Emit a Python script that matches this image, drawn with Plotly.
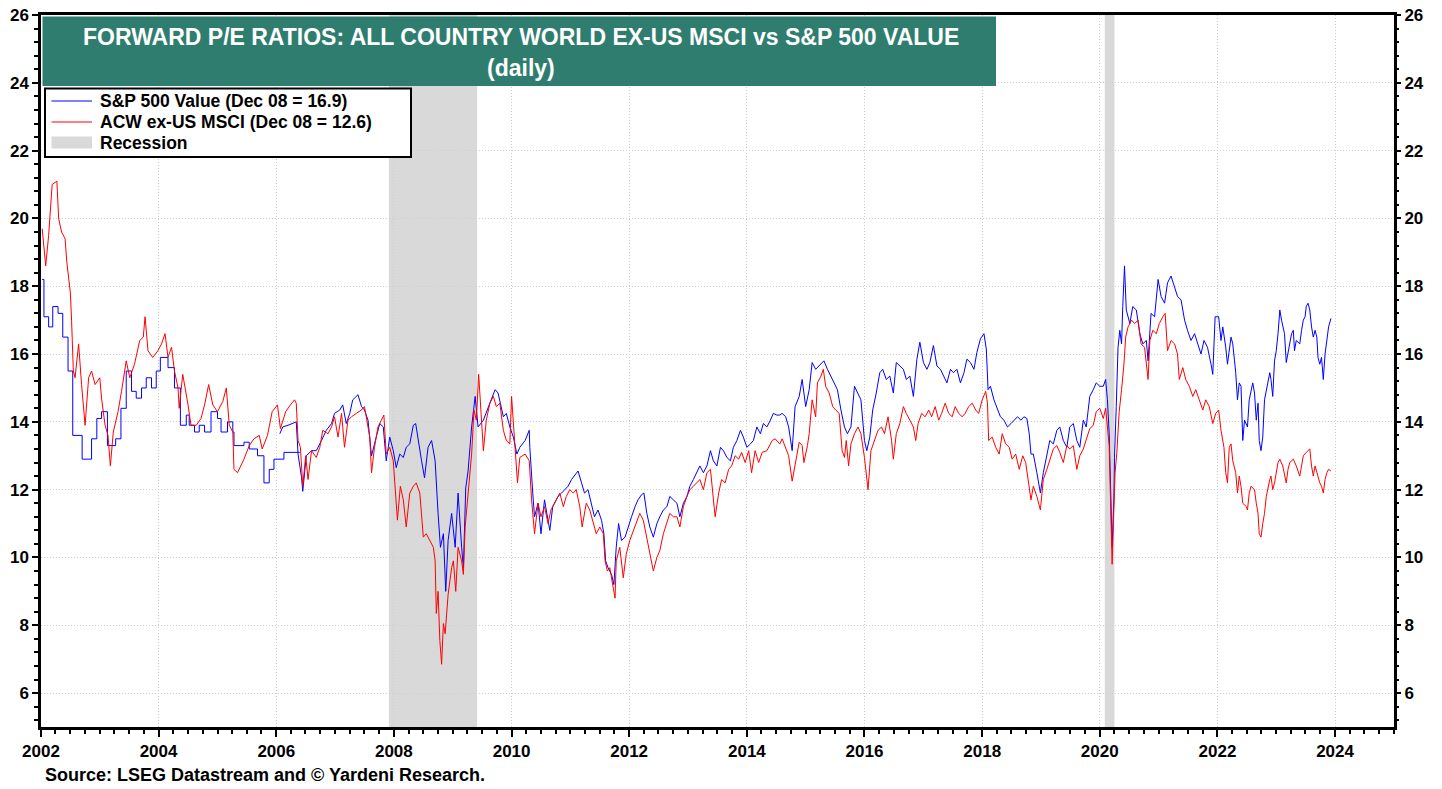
import pandas as pd
import plotly.graph_objects as go

# ---------------- data ----------------
# decimal years
ACW_YEARS = [
    2002.02, 2002.08, 2002.13, 2002.19, 2002.27, 2002.30, 2002.35, 2002.41, 2002.44, 2002.47, 2002.50, 2002.52,
    2002.55, 2002.58, 2002.64, 2002.69, 2002.75, 2002.81, 2002.86, 2002.92, 2003.00, 2003.03, 2003.09, 2003.14,
    2003.18, 2003.23, 2003.31, 2003.37, 2003.45, 2003.51, 2003.59, 2003.68, 2003.74, 2003.77, 2003.82, 2003.90,
    2003.99, 2004.05, 2004.11, 2004.16, 2004.22, 2004.27, 2004.33, 2004.35, 2004.41, 2004.50, 2004.55, 2004.64,
    2004.72, 2004.78, 2004.85, 2004.92, 2005.00, 2005.09, 2005.15, 2005.20, 2005.26, 2005.28, 2005.34, 2005.45,
    2005.54, 2005.62, 2005.71, 2005.76, 2005.85, 2005.93, 2006.02, 2006.07, 2006.16, 2006.24,
    2006.31, 2006.34, 2006.37, 2006.41, 2006.45, 2006.50, 2006.54, 2006.60, 2006.68, 2006.74, 2006.79, 2006.88,
    2006.94, 2006.99, 2007.05, 2007.11, 2007.16, 2007.22, 2007.28, 2007.36, 2007.45, 2007.50, 2007.54, 2007.59,
    2007.62, 2007.67, 2007.73, 2007.79, 2007.83, 2007.87, 2007.93, 2007.99, 2008.04, 2008.06, 2008.11, 2008.16,
    2008.21, 2008.27, 2008.33, 2008.38, 2008.44, 2008.50, 2008.55, 2008.61, 2008.67, 2008.70, 2008.72, 2008.75,
    2008.78, 2008.81, 2008.84, 2008.87, 2008.89, 2008.92, 2008.98, 2009.01, 2009.05, 2009.09, 2009.15, 2009.18,
    2009.21, 2009.26, 2009.32, 2009.36, 2009.40, 2009.44, 2009.49, 2009.52, 2009.57, 2009.63, 2009.69, 2009.74,
    2009.80, 2009.86, 2009.91, 2009.97, 2010.00, 2010.06, 2010.10, 2010.14, 2010.23, 2010.30,
    2010.34, 2010.39, 2010.45, 2010.50, 2010.56, 2010.62, 2010.67, 2010.73, 2010.82, 2010.88, 2010.93, 2010.99,
    2011.05, 2011.10, 2011.16, 2011.20, 2011.27, 2011.33, 2011.39, 2011.44, 2011.50, 2011.56, 2011.59, 2011.63,
    2011.67, 2011.72, 2011.76, 2011.78, 2011.84, 2011.90, 2011.95, 2012.01, 2012.07, 2012.13, 2012.18, 2012.24,
    2012.30, 2012.35, 2012.41, 2012.47, 2012.52, 2012.58, 2012.64, 2012.69, 2012.75, 2012.81, 2012.86, 2012.92,
    2012.98, 2013.03, 2013.09, 2013.15, 2013.20, 2013.26, 2013.32, 2013.38, 2013.42, 2013.46, 2013.52, 2013.57,
    2013.63, 2013.69, 2013.74, 2013.80, 2013.86, 2013.91, 2013.97, 2014.03, 2014.08, 2014.14, 2014.20, 2014.26,
    2014.34, 2014.43, 2014.48, 2014.56,
    2014.60, 2014.66, 2014.71, 2014.77, 2014.83, 2014.89, 2014.94, 2014.97, 2015.03, 2015.06, 2015.11, 2015.17,
    2015.20, 2015.26, 2015.30, 2015.34, 2015.40, 2015.46, 2015.51, 2015.57, 2015.62, 2015.66, 2015.69, 2015.73,
    2015.77, 2015.83, 2015.89, 2015.94, 2016.00, 2016.03, 2016.06, 2016.11, 2016.17, 2016.23, 2016.29, 2016.34,
    2016.40, 2016.46, 2016.49, 2016.54, 2016.60, 2016.66, 2016.71, 2016.77, 2016.83, 2016.87, 2016.91, 2016.97,
    2017.03, 2017.09, 2017.14, 2017.20, 2017.26, 2017.31, 2017.37, 2017.43, 2017.49, 2017.54, 2017.60, 2017.66,
    2017.71, 2017.77, 2017.83, 2017.89, 2017.94, 2018.00, 2018.06, 2018.09, 2018.11, 2018.17, 2018.23, 2018.29,
    2018.34, 2018.40, 2018.46, 2018.51, 2018.57, 2018.63, 2018.69, 2018.74, 2018.80, 2018.83,
    2018.87, 2018.93, 2018.99, 2019.04, 2019.10, 2019.15, 2019.21, 2019.27, 2019.32, 2019.38, 2019.44, 2019.49,
    2019.55, 2019.61, 2019.66, 2019.72, 2019.77, 2019.83, 2019.89, 2019.94, 2020.00, 2020.06, 2020.10, 2020.13,
    2020.16, 2020.18, 2020.20, 2020.21, 2020.24, 2020.26, 2020.29, 2020.33, 2020.37, 2020.41, 2020.44, 2020.48,
    2020.54, 2020.59, 2020.65, 2020.70, 2020.76, 2020.82, 2020.85, 2020.90, 2020.96, 2021.01, 2021.07, 2021.11,
    2021.15, 2021.21, 2021.27, 2021.32, 2021.35, 2021.41, 2021.46, 2021.52, 2021.58, 2021.63, 2021.69, 2021.75,
    2021.80, 2021.86, 2021.92, 2021.97, 2022.02,
    2022.06, 2022.11, 2022.14, 2022.17, 2022.20, 2022.23, 2022.26, 2022.31, 2022.34, 2022.37, 2022.40, 2022.43,
    2022.49, 2022.51, 2022.54, 2022.57, 2022.63, 2022.66, 2022.69, 2022.71, 2022.74, 2022.77, 2022.80, 2022.83,
    2022.86, 2022.89, 2022.91, 2022.94, 2022.97, 2023.00, 2023.03, 2023.06, 2023.11, 2023.17, 2023.20, 2023.23,
    2023.29, 2023.34, 2023.40, 2023.43, 2023.46, 2023.51, 2023.57, 2023.60, 2023.63, 2023.66, 2023.69, 2023.74,
    2023.77, 2023.80, 2023.83, 2023.86, 2023.89, 2023.93,
]
ACW_PE = [
    19.7, 18.6, 19.5, 21.0, 21.1, 20.0, 19.6, 19.4, 18.7, 18.2, 17.8, 17.0,
    15.5, 15.3, 16.3, 15.1, 13.9, 15.3, 15.5, 15.1, 15.3, 14.7, 13.9, 13.6,
    12.7, 13.7, 14.3, 14.9, 15.8, 15.3, 15.7, 16.4, 16.5, 17.1, 16.1, 15.9,
    16.1, 16.3, 16.6, 15.9, 16.2, 15.5, 15.0, 14.4, 15.4, 14.5, 13.9, 13.9,
    14.1, 14.5, 15.1, 14.5, 14.3, 14.6, 15.0, 13.9, 13.7, 12.6, 12.5, 12.9,
    13.3, 13.5, 13.6, 13.2, 13.6, 14.3, 14.5, 13.8, 14.3, 14.5,
    14.65, 14.55, 13.45, 13.25, 12.1, 13.0, 12.3, 13.15, 12.95, 13.25, 13.75, 13.65,
    13.85, 14.15, 13.55, 14.25, 13.25, 14.05, 14.15, 14.25, 14.35, 14.45, 14.05, 13.55,
    12.5, 13.25, 13.85, 14.05, 14.2, 13.05, 13.25, 12.85, 11.7, 11.1, 12.1, 11.7,
    10.9, 11.9, 12.1, 12.2, 11.9, 10.6, 10.7, 10.5, 10.3, 9.9, 8.35, 9.0,
    7.55, 6.85, 8.05, 7.75, 8.35, 8.9, 9.7, 9.9, 9.0, 10.3, 9.9, 9.5,
    10.9, 11.9, 13.05, 14.35, 14.05, 15.4, 13.75, 13.15, 14.05, 14.55, 14.75, 14.45,
    14.55, 13.75, 13.45, 13.35, 14.75, 13.05, 12.2, 12.95, 13.05, 12.85,
    11.7, 10.7, 11.6, 11.2, 11.5, 11.0, 11.4, 11.6, 11.9, 11.5, 11.8, 12.0,
    11.9, 12.0, 11.5, 10.9, 11.6, 11.4, 11.0, 10.7, 10.9, 10.7, 9.9, 9.6,
    9.7, 9.2, 8.8, 9.9, 10.3, 9.4, 10.1, 10.5, 10.8, 11.1, 11.3, 11.1,
    10.6, 10.2, 9.6, 10.0, 10.2, 10.7, 11.0, 11.3, 11.2, 11.2, 10.9, 11.5,
    11.8, 12.0, 12.1, 12.2, 12.3, 12.0, 12.5, 12.6, 11.9, 11.2, 11.9, 12.3,
    12.2, 12.6, 12.7, 13.0, 12.9, 13.1, 12.8, 13.15, 12.5, 13.15, 12.8, 13.1,
    13.15, 13.45, 13.5, 13.35,
    13.5, 13.2, 13.0, 12.25, 12.8, 13.4, 13.3, 12.8, 13.3, 13.65, 14.65, 14.15,
    15.15, 15.35, 15.55, 15.05, 14.85, 14.45, 14.35, 14.25, 13.15, 12.95, 13.45, 12.7,
    13.35, 13.65, 13.85, 13.65, 12.95, 12.4, 12.0, 13.15, 13.45, 13.75, 13.85, 13.65,
    14.15, 13.45, 12.9, 13.65, 13.95, 14.45, 14.25, 14.05, 13.85, 13.45, 13.95, 14.25,
    14.15, 14.35, 14.15, 14.45, 14.05, 14.25, 14.55, 14.25, 14.15, 14.45, 14.25, 14.15,
    14.25, 14.45, 14.55, 14.35, 14.25, 14.65, 14.9, 14.55, 13.45, 13.55, 13.25, 13.05,
    13.65, 13.35, 13.25, 12.9, 13.05, 12.6, 13.0, 12.8, 12.1, 11.7,
    12.1, 11.8, 11.4, 12.3, 12.6, 12.9, 13.2, 13.3, 13.1, 12.8, 13.3, 13.2,
    13.3, 12.6, 13.0, 13.2, 13.5, 13.8, 13.9, 14.3, 14.4, 14.1, 14.4, 13.9,
    13.3, 11.9, 10.5, 9.8, 11.5, 12.5, 13.1, 14.3, 14.95, 15.7, 16.5, 16.8,
    17.0, 16.9, 17.0, 16.3, 16.2, 15.25, 16.4, 16.7, 16.6, 16.9, 17.1, 17.2,
    16.1, 16.4, 16.3, 16.0, 15.25, 15.6, 15.25, 15.05, 14.75, 14.95, 14.65, 14.35,
    14.65, 14.45, 13.95, 14.25, 14.35,
    13.75, 13.25, 12.5, 12.2, 13.25, 13.35, 12.85, 12.5, 11.9, 12.4, 12.1, 11.6,
    11.5, 11.4, 11.9, 12.1, 12.0, 11.6, 11.3, 10.7, 10.6, 11.0, 11.3, 11.8,
    12.1, 12.3, 12.4, 12.0, 12.2, 12.5, 12.8, 12.9, 12.7, 12.2, 12.6, 12.8,
    12.9, 12.7, 12.4, 12.7, 13.0, 13.1, 13.2, 12.7, 12.4, 12.7, 12.5, 12.2,
    12.1, 11.9, 12.3, 12.5, 12.6, 12.55,
]

# S&P 500 Value: early (stepped, low-frequency) history
SPV_STEP_YEARS = [
    2002.02, 2002.05, 2002.13, 2002.20, 2002.29, 2002.37, 2002.46, 2002.54, 2002.70, 2002.86, 2002.95, 2003.03,
    2003.13, 2003.27, 2003.36, 2003.45, 2003.54, 2003.62, 2003.71, 2003.79, 2003.88, 2003.96, 2004.03, 2004.16,
    2004.27, 2004.37, 2004.47, 2004.52, 2004.61, 2004.69, 2004.78, 2004.89, 2005.00, 2005.06, 2005.17, 2005.26,
    2005.28, 2005.45, 2005.54, 2005.68, 2005.79, 2005.88, 2005.96, 2006.13, 2006.40,
]
SPV_STEP_PE = [
    18.2, 17.1, 16.8, 17.4, 17.2, 16.5, 15.5, 13.6, 12.9, 13.5, 14.1, 14.3,
    13.3, 13.5, 14.4, 15.5, 14.9, 14.7, 15.0, 15.3, 15.0, 15.5, 15.9, 15.6,
    15.0, 13.9, 14.2, 13.9, 13.7, 13.9, 13.7, 14.3, 14.1, 13.7, 14.0, 13.7,
    13.3, 13.4, 13.2, 13.0, 12.2, 12.6, 12.9, 13.1, 13.1,
]

# S&P 500 Value: daily history
SPV_YEARS = [
    2006.06, 2006.11, 2006.20, 2006.28, 2006.34, 2006.37, 2006.43, 2006.45, 2006.51, 2006.60, 2006.68, 2006.77,
    2006.85, 2006.94, 2006.99, 2007.08, 2007.13, 2007.19, 2007.25, 2007.30, 2007.39, 2007.45, 2007.50, 2007.56,
    2007.59, 2007.62, 2007.70, 2007.76, 2007.82, 2007.87, 2007.93, 2007.99, 2008.04, 2008.10, 2008.16, 2008.21,
    2008.27, 2008.33, 2008.37, 2008.41, 2008.47, 2008.52, 2008.58, 2008.64, 2008.70, 2008.75, 2008.79, 2008.84,
    2008.88, 2008.92, 2008.98, 2009.04, 2009.09, 2009.15, 2009.18, 2009.22, 2009.26, 2009.32, 2009.38, 2009.43,
    2009.52, 2009.63, 2009.72, 2009.77, 2009.86, 2009.91, 2009.97, 2010.03, 2010.09, 2010.14, 2010.23, 2010.30,
    2010.31, 2010.36, 2010.39, 2010.45, 2010.50, 2010.56, 2010.65, 2010.70, 2010.79, 2010.85, 2010.90, 2010.96,
    2011.02, 2011.07, 2011.13, 2011.19, 2011.24, 2011.30, 2011.36, 2011.41, 2011.47, 2011.53, 2011.57, 2011.60,
    2011.64, 2011.70, 2011.74, 2011.78, 2011.82, 2011.87, 2011.93, 2011.98, 2012.04, 2012.10, 2012.15, 2012.21,
    2012.25, 2012.30, 2012.35, 2012.41, 2012.47, 2012.52, 2012.58, 2012.64, 2012.69, 2012.75, 2012.81, 2012.86,
    2012.92, 2012.98, 2013.03, 2013.09, 2013.15, 2013.20, 2013.26, 2013.32, 2013.38, 2013.43, 2013.49, 2013.55,
    2013.60, 2013.66, 2013.72, 2013.77, 2013.83, 2013.89, 2013.94, 2014.00, 2014.06, 2014.11, 2014.17, 2014.23,
    2014.28, 2014.34, 2014.40, 2014.45, 2014.51, 2014.56,
    2014.60, 2014.66, 2014.71, 2014.77, 2014.82, 2014.89, 2014.94, 2015.00, 2015.06, 2015.11, 2015.17, 2015.23,
    2015.31, 2015.37, 2015.43, 2015.49, 2015.54, 2015.60, 2015.66, 2015.71, 2015.77, 2015.83, 2015.89, 2015.94,
    2016.00, 2016.04, 2016.09, 2016.14, 2016.20, 2016.26, 2016.31, 2016.37, 2016.43, 2016.49, 2016.54, 2016.60,
    2016.66, 2016.71, 2016.77, 2016.83, 2016.89, 2016.94, 2017.00, 2017.06, 2017.11, 2017.17, 2017.23, 2017.29,
    2017.34, 2017.40, 2017.46, 2017.51, 2017.57, 2017.63, 2017.69, 2017.74, 2017.80, 2017.86, 2017.91, 2017.97,
    2018.03, 2018.07, 2018.10, 2018.14, 2018.20, 2018.26, 2018.31, 2018.37, 2018.43, 2018.49, 2018.54, 2018.60,
    2018.66, 2018.71, 2018.76, 2018.80, 2018.83,
    2018.87, 2018.93, 2018.99, 2019.04, 2019.10, 2019.15, 2019.21, 2019.27, 2019.32, 2019.38, 2019.44, 2019.49,
    2019.55, 2019.61, 2019.66, 2019.72, 2019.77, 2019.83, 2019.89, 2019.94, 2020.00, 2020.06, 2020.10, 2020.13,
    2020.16, 2020.18, 2020.20, 2020.21, 2020.24, 2020.25, 2020.28, 2020.31, 2020.34, 2020.37, 2020.39, 2020.42,
    2020.45, 2020.51, 2020.56, 2020.62, 2020.68, 2020.73, 2020.79, 2020.82, 2020.87, 2020.93, 2020.99, 2021.04,
    2021.10, 2021.15, 2021.21, 2021.27, 2021.32, 2021.38, 2021.44, 2021.49, 2021.55, 2021.61, 2021.66, 2021.72,
    2021.77, 2021.83, 2021.89, 2021.92, 2021.96, 2022.02,
    2022.06, 2022.09, 2022.14, 2022.17, 2022.23, 2022.26, 2022.29, 2022.31, 2022.34, 2022.37, 2022.40, 2022.43,
    2022.46, 2022.51, 2022.54, 2022.60, 2022.63, 2022.66, 2022.69, 2022.71, 2022.74, 2022.77, 2022.80, 2022.86,
    2022.89, 2022.91, 2022.94, 2022.97, 2023.00, 2023.03, 2023.06, 2023.09, 2023.14, 2023.17, 2023.20, 2023.23,
    2023.26, 2023.29, 2023.31, 2023.34, 2023.40, 2023.43, 2023.46, 2023.49, 2023.51, 2023.54, 2023.57, 2023.60,
    2023.63, 2023.66, 2023.69, 2023.71, 2023.74, 2023.77, 2023.80, 2023.83, 2023.86, 2023.89, 2023.93,
]
SPV_PE = [
    13.65, 13.85, 13.9, 13.95, 14.0, 13.05, 12.35, 11.95, 13.0, 13.15, 13.15, 13.45,
    13.75, 13.95, 14.25, 14.35, 14.5, 13.95, 14.25, 14.65, 14.8, 14.45, 14.35, 14.05,
    13.45, 13.0, 13.55, 13.95, 13.85, 12.85, 13.55, 13.15, 12.65, 13.05, 12.95, 13.25,
    13.35, 13.9, 13.95, 13.45, 12.85, 12.35, 13.25, 13.45, 12.85, 11.3, 10.3, 10.7,
    9.0, 10.5, 11.3, 10.3, 11.9, 10.3, 9.7, 12.05, 12.55, 13.85, 14.75, 13.85,
    14.05, 14.55, 14.95, 14.85, 14.15, 14.25, 13.85, 13.55, 13.05, 13.25, 13.45, 13.75,
    13.25, 11.9, 11.2, 11.6, 10.7, 11.7, 10.8, 11.5, 11.8, 11.9, 12.0, 12.1,
    12.3, 12.4, 12.55, 12.2, 11.9, 12.0, 11.6, 11.2, 11.4, 11.1, 10.7, 9.9,
    9.7, 9.5, 9.2, 10.3, 11.0, 10.5, 10.6, 10.9, 11.2, 11.5, 11.7, 11.85,
    11.9, 11.3, 10.9, 10.6, 11.0, 11.2, 11.4, 11.5, 11.8, 11.7, 11.6, 11.2,
    11.6, 11.8, 12.1, 12.3, 12.5, 12.7, 12.5, 12.7, 13.15, 12.85, 12.7, 13.25,
    13.15, 12.95, 12.85, 13.25, 13.45, 13.75, 13.55, 13.25, 13.35, 13.45, 13.85, 13.65,
    13.95, 13.85, 14.05, 14.25, 14.2, 14.2,
    14.25, 14.15, 13.85, 13.15, 14.45, 14.75, 15.25, 14.45, 14.95, 15.75, 15.55, 15.65,
    15.8, 15.55, 15.35, 15.15, 14.95, 14.35, 13.85, 13.65, 13.85, 15.05, 14.85, 14.65,
    13.45, 13.15, 13.55, 14.35, 14.85, 15.45, 15.55, 15.25, 15.35, 14.85, 15.75, 15.65,
    15.55, 15.25, 15.35, 14.75, 15.85, 16.35, 15.75, 15.55, 15.75, 16.25, 15.65, 15.55,
    15.35, 15.15, 15.55, 15.45, 15.55, 15.15, 15.45, 15.85, 15.75, 15.55, 16.05, 16.45,
    16.6, 16.15, 14.95, 15.05, 14.65, 14.35, 14.15, 14.05, 13.85, 13.95, 14.05, 14.15,
    14.05, 14.15, 14.1, 13.65, 13.05,
    13.05, 12.5, 11.9, 12.5, 13.05, 13.45, 13.35, 13.75, 13.85, 13.45, 13.25, 13.85,
    13.95, 13.45, 13.25, 14.05, 13.85, 14.75, 14.95, 15.15, 15.05, 15.05, 15.25, 14.65,
    13.65, 12.3, 11.5, 10.3, 11.7, 12.95, 14.45, 16.2, 16.7, 16.3, 17.4, 18.6,
    17.3, 16.9, 17.4, 17.3, 16.6, 16.3, 16.4, 15.8, 17.2, 17.1, 18.2, 17.7,
    17.5, 18.1, 18.3, 18.0, 17.7, 17.6, 17.0, 16.7, 16.4, 16.6, 16.3, 16.0,
    16.4, 16.2, 15.7, 15.4, 17.1, 17.1,
    16.4, 16.8, 16.2, 15.7, 16.5, 16.3, 15.8, 15.45, 14.65, 15.15, 15.05, 13.45,
    14.05, 13.85, 14.65, 15.15, 14.85, 14.05, 14.55, 13.45, 13.15, 13.55, 14.65, 15.15,
    15.45, 15.25, 14.75, 15.8, 16.1, 16.6, 17.3, 17.0, 16.6, 15.75, 16.0, 16.3,
    16.6, 16.7, 16.1, 16.4, 16.3, 16.7, 17.0, 17.1, 17.4, 17.5, 17.3, 16.8,
    16.5, 16.7, 16.5, 15.9, 15.7, 15.9, 15.25, 16.0, 16.4, 16.8, 17.05,
]

RECESSION_STARTS = ["2007-12-01", "2020-02-01"]
RECESSION_ENDS = ["2009-06-01", "2020-04-01"]

TITLE_LINE1 = "FORWARD P/E RATIOS: ALL COUNTRY WORLD EX-US MSCI vs S&P 500 VALUE"
TITLE_LINE2 = "(daily)"
SPV_NAME = "S&P 500 Value (Dec 08 = 16.9)"
ACW_NAME = "ACW ex-US MSCI (Dec 08 = 12.6)"
REC_NAME = "Recession"
SOURCE = "Source: LSEG Datastream and © Yardeni Research."


def to_date(y):
    yr = int(y)
    start = pd.Timestamp(yr, 1, 1)
    end = pd.Timestamp(yr + 1, 1, 1)
    return start + (end - start) * (y - yr)


acw_dates = [to_date(v) for v in ACW_YEARS]
spv_dates = [to_date(v) for v in SPV_YEARS]
spv_step_dates = [to_date(v) for v in SPV_STEP_YEARS]

FONT = "Liberation Sans, Arial, sans-serif"
BLUE = "#0000FF"
RED = "#FF0000"
GREY = "#D9D9D9"
TEAL = "#2E7D6F"

# ---- layout geometry (pixels) ----
W, H = 1442, 789
ML, MR, MT, MB = 41, 48, 15, 62
PW, PH = W - ML - MR, H - MT - MB


def px(xp):
    return (xp - ML) / PW


def py(yp):
    return (H - MB - yp) / PH


fig = go.Figure()
fig.add_trace(go.Scatter(x=spv_dates, y=SPV_PE, mode="lines", name=SPV_NAME, showlegend=False,
                         legendgroup="spv", line=dict(color=BLUE, width=1)))
fig.add_trace(go.Scatter(x=spv_step_dates, y=SPV_STEP_PE, mode="lines", name=SPV_NAME,
                         legendgroup="spv", showlegend=False,
                         line=dict(color=BLUE, width=1, shape="hv")))
fig.add_trace(go.Scatter(x=acw_dates, y=ACW_PE, mode="lines", name=ACW_NAME, showlegend=False,
                         line=dict(color=RED, width=1)))
# dummy trace for the right-hand axis
fig.add_trace(go.Scatter(x=[acw_dates[0]], y=[None], yaxis="y2", showlegend=False,
                         hoverinfo="skip", mode="lines"))

for s, e in zip(RECESSION_STARTS, RECESSION_ENDS):
    fig.add_shape(type="rect", xref="x", yref="paper", x0=s, x1=e, y0=0, y1=1,
                  fillcolor=GREY, line=dict(width=0), layer="below")

# title box
fig.add_shape(type="rect", xref="paper", yref="paper", x0=px(42.5), x1=px(996), y0=py(86), y1=py(16.5),
              fillcolor=TEAL, line=dict(width=0), layer="above")
fig.add_annotation(xref="paper", yref="paper", x=px(521), y=py(37), text=TITLE_LINE1, showarrow=False,
                   font=dict(family=FONT, size=23, color="white", weight="bold"), yanchor="middle")
fig.add_annotation(xref="paper", yref="paper", x=px(521), y=py(68), text=TITLE_LINE2, showarrow=False,
                   font=dict(family=FONT, size=23, color="white", weight="bold"), yanchor="middle")

# legend box (drawn by hand to match the reference spacing)
fig.add_shape(type="rect", xref="paper", yref="paper", x0=px(45), x1=px(411), y0=py(157), y1=py(88.5),
              fillcolor="white", line=dict(color="black", width=2), layer="above")
legend_items = [(SPV_NAME, BLUE, "line", 101), (ACW_NAME, RED, "line", 122), (REC_NAME, GREY, "box", 142.5)]
legfont = dict(family=FONT, size=17.5, color="black", weight="bold")
for name, col, kind, yc in legend_items:
    if kind == "line":
        fig.add_shape(type="line", xref="paper", yref="paper", x0=px(51.5), x1=px(92), y0=py(yc), y1=py(yc),
                      line=dict(color=col, width=1), layer="above")
    else:
        fig.add_shape(type="rect", xref="paper", yref="paper", x0=px(51.5), x1=px(92), y0=py(yc + 6),
                      y1=py(yc - 6), fillcolor=col, line=dict(width=0), layer="above")
    fig.add_annotation(xref="paper", yref="paper", x=px(98), y=py(yc), text=name, showarrow=False,
                       xanchor="left", yanchor="middle", font=legfont)

fig.add_annotation(xref="paper", yref="paper", x=px(43), y=py(775), text=SOURCE, showarrow=False,
                   xanchor="left", yanchor="middle",
                   font=dict(family=FONT, size=18, color="black", weight="bold"))

tickfont = dict(family=FONT, size=17, color="black", weight="bold")
GRIDCOL = "#CDCDCD"
fig.update_layout(
    width=W, height=H,
    margin=dict(l=ML, r=MR, t=MT, b=MB, autoexpand=False),
    paper_bgcolor="white", plot_bgcolor="white",
    showlegend=False,
    xaxis=dict(type="date", range=["2002-01-01", "2025-01-01"], tick0="2002-01-01", dtick="M24",
               tickformat="%Y", ticks="outside", ticklen=7, tickwidth=1.5, tickcolor="black",
               tickfont=tickfont, showline=True, linewidth=2.5, linecolor="black", mirror=True,
               showgrid=True, gridcolor=GRIDCOL, griddash="1px,2px", gridwidth=1, zeroline=False,
               automargin=False,
               minor=dict(dtick="M3", ticks="outside", ticklen=4, tickcolor="black", showgrid=False)),
    yaxis=dict(range=[5, 26], tick0=0, dtick=2, ticks="outside", ticklen=6, tickwidth=1.5,
               tickcolor="black", tickfont=tickfont, showline=True, linewidth=2.5, linecolor="black",
               mirror=True, showgrid=True, gridcolor=GRIDCOL, griddash="1px,2px", gridwidth=1,
               zeroline=False, automargin=False,
               minor=dict(tick0=0, dtick=0.4, ticks="outside", ticklen=4, tickcolor="black", showgrid=False)),
    yaxis2=dict(range=[5, 26], overlaying="y", side="right", tick0=0, dtick=2, ticks="outside",
                ticklen=6, tickwidth=1.5, tickcolor="black", tickfont=tickfont, showgrid=False,
                zeroline=False, showline=False, automargin=False,
                minor=dict(tick0=0, dtick=0.4, ticks="outside", ticklen=4, tickcolor="black")),
    hovermode=False,
)

fig.write_html("out.html", config={"displayModeBar": False},
               post_script="document.body.style.margin='0px';")
